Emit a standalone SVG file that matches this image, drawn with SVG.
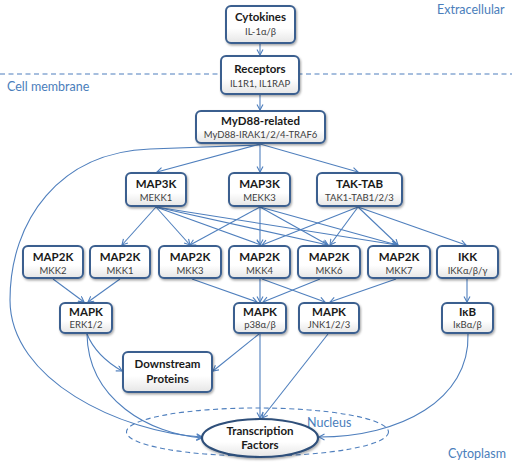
<svg xmlns="http://www.w3.org/2000/svg" width="512" height="468" viewBox="0 0 512 468">
<style>
.box{fill:url(#g);stroke:#3a5f8f;stroke-width:2;filter:url(#sh)}
.t{font-family:Lato,"Open Sans","Liberation Sans",sans-serif;font-weight:bold;font-size:11.5px;fill:#1a1a1a;text-anchor:middle}
.s{font-family:Lato,"Open Sans","Liberation Sans",sans-serif;font-size:9.5px;fill:#404040;text-anchor:middle}
.lab{font-family:Lato,"Open Sans","Liberation Sans",sans-serif;font-size:12.5px;fill:#4a7ebb}
.e{fill:none;stroke:#4f7fbd;stroke-width:1.1;marker-end:url(#a)}
.d{fill:none;stroke:#4f7fbd;stroke-width:1.1;stroke-dasharray:5,3.5}
</style>
<defs>
<linearGradient id="g" x1="0" y1="0" x2="0" y2="1">
<stop offset="0" stop-color="#ffffff"/><stop offset="0.6" stop-color="#ffffff"/><stop offset="1" stop-color="#e6e6e6"/>
</linearGradient>
<filter id="sh" x="-10%" y="-10%" width="130%" height="140%">
<feDropShadow dx="1" dy="1.5" stdDeviation="0.8" flood-color="#000" flood-opacity="0.35"/>
</filter>
<marker id="a" markerWidth="8" markerHeight="8" refX="6" refY="3.5" orient="auto" markerUnits="userSpaceOnUse">
<path d="M0.5,0.5 L6,3.5 L0.5,6.5" fill="none" stroke="#4f7fbd" stroke-width="1.1"/>
</marker>
</defs>

<line class="d" x1="0" y1="74" x2="512" y2="74"/>
<ellipse class="d" cx="257.5" cy="432" rx="131" ry="24"/>
<text class="lab" x="437" y="14">Extracellular</text>
<text class="lab" x="7" y="91">Cell membrane</text>
<text class="lab" x="307" y="427">Nucleus</text>
<text class="lab" x="448" y="458">Cytoplasm</text>

<g id="connectors">
<path class="e" d="M260,43 L260,55"/>
<path class="e" d="M260,94 L260,110"/>
<path class="e" d="M260,144 L157,172"/>
<path class="e" d="M260,144 L260,172"/>
<path class="e" d="M260,144 L358,172"/>
<path class="e" d="M156,207 L122,245"/>
<path class="e" d="M156,207 L190,245"/>
<path class="e" d="M156,207 L261,245"/>
<path class="e" d="M156,207 L328,245"/>
<path class="e" d="M156,207 L397,245"/>
<path class="e" d="M260,207 L190,245"/>
<path class="e" d="M260,207 L260,245"/>
<path class="e" d="M260,207 L328,245"/>
<path class="e" d="M260,207 L397,245"/>
<path class="e" d="M358,207 L262,245"/>
<path class="e" d="M358,207 L330,245"/>
<path class="e" d="M358,207 L398,245"/>
<path class="e" d="M358,207 L466,245"/>
<path class="e" d="M53,279 L84,302"/>
<path class="e" d="M120,279 L88,302"/>
<path class="e" d="M192,279 L257,302"/>
<path class="e" d="M260,279 L260,302"/>
<path class="e" d="M262,279 L325,302"/>
<path class="e" d="M320,279 L263,302"/>
<path class="e" d="M396,279 L330,302"/>
<path class="e" d="M467,279 L467,302"/>
<path class="e" d="M87,334 Q96,356 122,371"/>
<path class="e" d="M87,334 C88,400 150,434 202,438"/>
<path class="e" d="M259,334 L213,371"/>
<path class="e" d="M260,334 L260,418"/>
<path class="e" d="M328,334 L262,418"/>
<path class="e" d="M468,334 C470,400 400,437 319,437"/>
<path class="e" d="M260,145 L150,149 C60,152 10,220 10,300 C10,380 120,432 202,437"/>
</g>

<g id="cytokines"><rect class="box" x="226" y="6" width="69" height="37" rx="5"/><text class="t" x="260.5" y="21">Cytokines</text><text class="s" x="260.5" y="35">IL-1α/β</text></g>
<g id="receptors"><rect class="box" x="221" y="56" width="78" height="38" rx="5"/><text class="t" x="260" y="73">Receptors</text><text class="s" x="260" y="87">IL1R1, IL1RAP</text></g>
<g id="myd88"><rect class="box" x="196" y="111" width="129" height="32" rx="5"/><text class="t" x="260.5" y="125">MyD88-related</text><text class="s" x="260.5" y="138">MyD88-IRAK1/2/4-TRAF6</text></g>

<g id="mekk1"><rect class="box" x="126" y="173" width="60" height="33" rx="5"/><text class="t" x="156" y="188">MAP3K</text><text class="s" x="156" y="201">MEKK1</text></g>
<g id="mekk3"><rect class="box" x="229" y="173" width="61" height="33" rx="5"/><text class="t" x="259.5" y="188">MAP3K</text><text class="s" x="259.5" y="201">MEKK3</text></g>
<g id="taktab"><rect class="box" x="317" y="173" width="85" height="33" rx="5"/><text class="t" x="359.5" y="188">TAK-TAB</text><text class="s" x="359.5" y="201">TAK1-TAB1/2/3</text></g>

<g id="mkk2"><rect class="box" x="23" y="246" width="60" height="32" rx="5"/><text class="t" x="53" y="261">MAP2K</text><text class="s" x="53" y="274">MKK2</text></g>
<g id="mkk1"><rect class="box" x="90" y="246" width="60" height="32" rx="5"/><text class="t" x="120" y="261">MAP2K</text><text class="s" x="120" y="274">MKK1</text></g>
<g id="mkk3"><rect class="box" x="159" y="246" width="62" height="32" rx="5"/><text class="t" x="190" y="261">MAP2K</text><text class="s" x="190" y="274">MKK3</text></g>
<g id="mkk4"><rect class="box" x="229" y="246" width="61" height="32" rx="5"/><text class="t" x="259.5" y="261">MAP2K</text><text class="s" x="259.5" y="274">MKK4</text></g>
<g id="mkk6"><rect class="box" x="298" y="246" width="62" height="32" rx="5"/><text class="t" x="329" y="261">MAP2K</text><text class="s" x="329" y="274">MKK6</text></g>
<g id="mkk7"><rect class="box" x="368" y="246" width="62" height="32" rx="5"/><text class="t" x="399" y="261">MAP2K</text><text class="s" x="399" y="274">MKK7</text></g>
<g id="ikk"><rect class="box" x="437" y="246" width="61" height="32" rx="5"/><text class="t" x="467.5" y="261">IKK</text><text class="s" x="467.5" y="274">IKKα/β/γ</text></g>

<g id="erk"><rect class="box" x="60" y="303" width="52" height="30" rx="5"/><text class="t" x="86" y="316">MAPK</text><text class="s" x="86" y="328">ERK1/2</text></g>
<g id="p38"><rect class="box" x="234" y="303" width="52" height="30" rx="5"/><text class="t" x="260" y="316">MAPK</text><text class="s" x="260" y="328">p38α/β</text></g>
<g id="jnk"><rect class="box" x="299" y="303" width="60" height="30" rx="5"/><text class="t" x="329" y="316">MAPK</text><text class="s" x="329" y="328">JNK1/2/3</text></g>
<g id="ikb"><rect class="box" x="442" y="303" width="51" height="30" rx="5"/><text class="t" x="467.5" y="316">IκB</text><text class="s" x="467.5" y="328">IκBα/β</text></g>

<g id="downstream"><rect class="box" x="123" y="352" width="89" height="40" rx="5"/><text class="t" x="167.5" y="368">Downstream</text><text class="t" x="167.5" y="383">Proteins</text></g>
<g id="tf"><ellipse cx="260" cy="438" rx="58" ry="19" fill="url(#g)" stroke="#2f4f7a" stroke-width="2.2" filter="url(#sh)"/><text class="t" x="260" y="435">Transcription</text><text class="t" x="260" y="449">Factors</text></g>
</svg>
